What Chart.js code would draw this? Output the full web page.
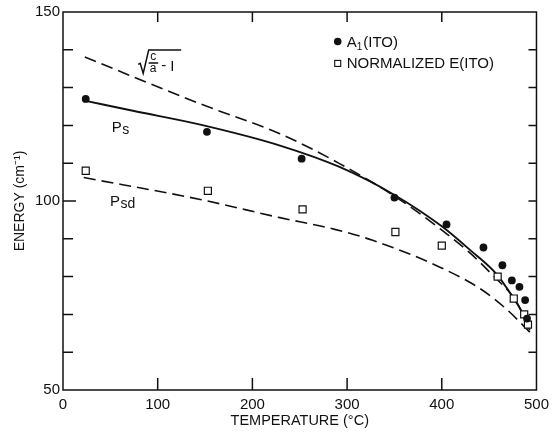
<!DOCTYPE html>
<html>
<head>
<meta charset="utf-8">
<script src="https://cdn.jsdelivr.net/npm/chart.js@4/dist/chart.umd.min.js"></script>
<style>
  html,body{margin:0;padding:0;background:#fff;}
  #wrap{width:555px;height:436px;}
</style>
</head>
<body>
<div id="wrap"><canvas id="c" width="555" height="436"></canvas></div>
<script>
/* ─── DATA ─────────────────────────────── */
// A1(ITO) filled circles
const aTemp   = [24, 152, 252, 350, 405, 444, 464, 474, 482, 488, 490];
const aEnergy = [127.0, 118.3, 111.2, 100.9, 93.8, 87.7, 83.0, 79.0, 77.3, 73.8, 68.9];
// normalized E(ITO) open squares
const eTemp   = [24, 153, 253, 351, 400, 459, 476, 487, 491];
const eEnergy = [108.0, 102.7, 97.8, 91.8, 88.2, 80.0, 74.2, 70.0, 67.3];
// Ps solid curve
const psTemp   = [24, 75, 145, 230, 292, 350, 400, 430, 458, 475, 485, 492];
const psEnergy = [126.5, 123.8, 120.2, 114.6, 109.0, 101.6, 93.3, 87.0, 80.6, 74.6, 70.5, 66.5];
// sqrt(c/a - 1) dashed curve
const sqTemp   = [23, 145, 229, 292, 350, 398, 430, 454, 479, 493];
const sqEnergy = [138.1, 125.7, 117.8, 109.9, 101.3, 92.7, 86.2, 80.3, 73.3, 65.8];
// Psd dashed curve
const psdTemp   = [22, 145, 229, 287, 327, 398, 443, 470, 493];
const psdEnergy = [106.2, 100.4, 95.6, 92.5, 89.6, 82.5, 76.4, 71.0, 65.3];

const xTickVals = [100, 200, 300, 400];
const yTickVals = [60, 70, 80, 90, 100, 110, 120, 130, 140];

const FONT = 'Liberation Sans, Arial, sans-serif';
const pts = (xs, ys) => xs.map((x, i) => ({x, y: ys[i]}));

/* ─── FRAME, TICKS, LABELS ─────────────── */
const decor = {
  id: 'decor',
  afterDraw(chart){
    const {ctx, chartArea: a, scales: {x, y}} = chart;
    const X = v => x.getPixelForValue(v), Y = v => y.getPixelForValue(v);
    ctx.save();
    ctx.strokeStyle = '#111'; ctx.lineWidth = 1.5;
    ctx.strokeRect(a.left, a.top, a.right - a.left, a.bottom - a.top);
    ctx.beginPath();
    yTickVals.forEach(v => {
      const py = Y(v), len = v % 50 === 0 ? 13 : 10;
      ctx.moveTo(a.left, py);  ctx.lineTo(a.left + len, py);
      ctx.moveTo(a.right, py); ctx.lineTo(a.right - 8, py);
    });
    xTickVals.forEach(v => {
      const px = X(v);
      ctx.moveTo(px, a.bottom); ctx.lineTo(px, a.bottom - 12);
      ctx.moveTo(px, a.top);    ctx.lineTo(px, a.top + 10);
    });
    ctx.stroke();

    ctx.fillStyle = '#111';
    ctx.textBaseline = 'alphabetic';
    const txt = (s, px, py, size) => { ctx.font = size + 'px ' + FONT; ctx.fillText(s, px, py); return ctx.measureText(s).width; };

    // Ps label
    let px = X(51.4), py = Y(118.3);
    let w = txt('P', px, py, 15);
    txt('s', px + w + 0.5, py + 2, 14);

    // Psd label
    px = X(49.6); py = Y(98.55);
    w = txt('P', px, py, 15);
    txt('sd', px + w + 0.5, py + 2, 14);

    // sqrt(c/a - 1)
    px = X(79.4); py = Y(136.4);
    ctx.lineWidth = 1.5;
    ctx.beginPath();
    ctx.moveTo(px, py + 1); ctx.lineTo(px + 2, py);
    ctx.lineTo(px + 5, py + 10);
    ctx.lineTo(px + 10.5, py - 13.4);
    ctx.lineTo(px + 43, py - 13.4);
    ctx.moveTo(px + 10.5, py - 0.5); ctx.lineTo(px + 20, py - 0.5);
    ctx.stroke();
    ctx.textAlign = 'center';
    txt('c', px + 15, py - 3, 12);
    txt('a', px + 15, py + 9, 12);
    ctx.textAlign = 'left';
    txt('-', px + 23, py + 7, 15);
    txt('I', px + 32, py + 8, 15);

    // legend
    px = X(290.1);
    ctx.beginPath(); ctx.arc(px, Y(142.2), 3.8, 0, Math.PI * 2); ctx.fill();
    ctx.lineWidth = 1.1;
    ctx.strokeRect(px - 3, Y(136.4) - 3, 6, 6);
    w = txt('A', px + 9, Y(140.8), 15);
    const w1 = txt('1', px + 9 + w, Y(140.8) + 3, 10);
    txt('(ITO)', px + 9 + w + w1 + 1, Y(140.8), 15);
    txt('NORMALIZED E(ITO)', px + 9, Y(135.1), 15);
    ctx.restore();
  }
};

/* ─── CHART ────────────────────────────── */
new Chart(document.getElementById('c').getContext('2d'), {
  type: 'scatter',
  data: {
    datasets: [
      {label: 'A1(ITO)', data: pts(aTemp, aEnergy), pointStyle: 'circle', pointRadius: 3.9,
       backgroundColor: '#111', borderColor: '#111', borderWidth: 0, order: 0},
      {label: 'NORMALIZED E(ITO)', data: pts(eTemp, eEnergy), pointStyle: 'rect', pointRadius: 5,
       backgroundColor: '#fff', borderColor: '#111', borderWidth: 1.2, order: 0},
      {label: 'Ps', data: pts(psTemp, psEnergy), showLine: true, pointRadius: 0,
       borderColor: '#111', borderWidth: 1.9, cubicInterpolationMode: 'monotone', order: 1},
      {label: 'sqrt(c/a-1)', data: pts(sqTemp, sqEnergy), showLine: true, pointRadius: 0,
       borderColor: '#111', borderWidth: 1.6, borderDash: [12, 6], cubicInterpolationMode: 'monotone', order: 1},
      {label: 'Psd', data: pts(psdTemp, psdEnergy), showLine: true, pointRadius: 0,
       borderColor: '#111', borderWidth: 1.6, borderDash: [12, 6], cubicInterpolationMode: 'monotone', order: 1}
    ]
  },
  options: {
    responsive: false, devicePixelRatio: 1, animation: false,
    layout: {padding: {top: 10, right: 18, left: 0, bottom: 0}},
    plugins: {legend: {display: false}, tooltip: {enabled: false}},
    scales: {
      x: {
        type: 'linear', min: 0, max: 500,
        grid: {display: false, drawTicks: false}, border: {display: false},
        ticks: {stepSize: 100, padding: 6, color: '#111', font: {size: 15, family: FONT}},
        title: {display: true, text: 'TEMPERATURE (°C)', color: '#111', font: {size: 14.5, family: FONT}, padding: {top: 0, bottom: 6}},
        afterFit: s => { s.height = 46; }
      },
      y: {
        type: 'linear', min: 50, max: 150,
        grid: {display: false, drawTicks: false}, border: {display: false},
        ticks: {stepSize: 50, padding: 3, color: '#111', font: {size: 15, family: FONT}},
        title: {display: true, text: 'ENERGY (cm⁻¹)', color: '#111', font: {size: 14, family: FONT}, padding: {top: 12, bottom: 0}},
        afterFit: s => { s.width = 63; }
      }
    }
  },
  plugins: [decor]
});
</script>
</body>
</html>
